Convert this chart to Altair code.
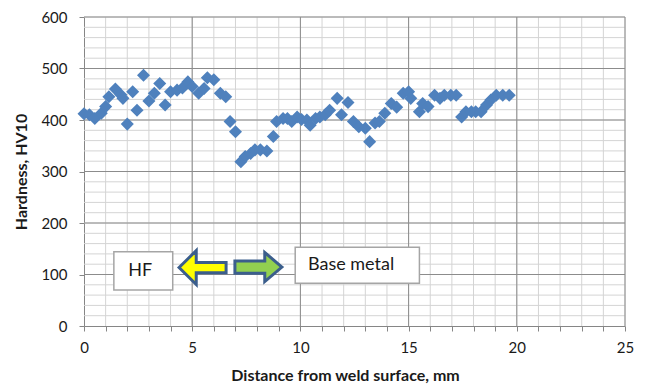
import altair as alt
import pandas as pd

# Hardness measurements
dist = [0, 0.25, 0.5, 0.8, 1.0, 1.15, 1.45, 1.7, 1.8, 2.0, 2.25, 2.45, 2.75, 3.0, 3.25,
        3.5, 3.75, 4.0, 4.3, 4.55, 4.8, 5.0, 5.3, 5.55, 5.7, 6.0, 6.3, 6.55, 6.75, 7.0,
        7.25, 7.45, 7.7, 7.9, 8.15, 8.45, 8.75, 8.9, 9.2, 9.4, 9.6, 9.85, 10.05, 10.3,
        10.45, 10.7, 10.9, 11.15, 11.35, 11.7, 11.9, 12.2, 12.45, 12.7, 13.0, 13.2, 13.45,
        13.65, 13.9, 14.2, 14.45, 14.75, 15.0, 15.1, 15.5, 15.65, 15.9, 16.2, 16.45, 16.65,
        16.95, 17.2, 17.45, 17.65, 17.9, 18.1, 18.35, 18.6, 18.8, 19.05, 19.35, 19.65]
hard = [412, 410, 403, 413, 426, 445, 460, 449, 442, 392, 455, 419, 487, 437, 452,
        471, 429, 455, 458, 462, 474, 465, 452, 461, 482, 478, 452, 445, 397, 377,
        319, 329, 335, 342, 342, 340, 368, 397, 403, 403, 397, 406, 401, 400,
        390, 403, 406, 410, 419, 442, 410, 434, 397, 387, 384, 358, 394,
        397, 413, 432, 425, 452, 455, 442, 416, 432, 426, 448, 442, 448,
        448, 448, 406, 416, 416, 416, 416, 429, 439, 448, 448, 448]

x_ticks = list(range(0, 26))
x_major = [5, 10, 15, 20, 25]
y_minor = list(range(20, 601, 20))
y_major = [100, 200, 300, 400, 500, 600]
y_ticks = [0, 100, 200, 300, 400, 500, 600]

# Annotation boxes (data units)
box_label = ["HF", "Base metal"]
box_x1 = [1.38, 9.76]
box_x2 = [4.1, 15.5]
box_y1 = [70, 83]
box_y2 = [144, 153]
text_x = [2.05, 10.35]
text_y = [107, 119]

FONT = "Lato"
XT = "Distance from weld surface, mm"
YT = "Hardness, HV10"
xs = alt.Scale(domain=[0, 25], nice=False, zero=False)
ys = alt.Scale(domain=[0, 600], nice=False)
xaxis = alt.Axis(values=x_ticks, labelExpr="datum.value % 5 === 0 ? datum.label : ''",
                 grid=False, tickSize=5, labelPadding=9, titlePadding=12, labelFlush=False,
                 titleX=261)
yaxis = alt.Axis(values=y_ticks, grid=False, tickSize=5, labelPadding=12, titlePadding=11)


def X(f):
    return alt.X(f, scale=xs, axis=xaxis, title=XT)


def Y(f):
    return alt.Y(f, scale=ys, axis=yaxis, title=YT)


df = pd.DataFrame({"d": dist, "h": hard})

vminor = alt.Chart(pd.DataFrame({"v": x_ticks[1:]})).mark_rule(
    color="#D4D4D4", strokeWidth=1).encode(x=X("v:Q"))
vmajor = alt.Chart(pd.DataFrame({"v": x_major})).mark_rule(
    color="#8C8C8C", strokeWidth=1).encode(x=X("v:Q"))
hminor = alt.Chart(pd.DataFrame({"v": y_minor})).mark_rule(
    color="#D4D4D4", strokeWidth=1).encode(y=Y("v:Q"))
hmajor = alt.Chart(pd.DataFrame({"v": y_major})).mark_rule(
    color="#8C8C8C", strokeWidth=1).encode(y=Y("v:Q"))

boxes_df = pd.DataFrame({"lab": box_label, "x1": box_x1, "x2": box_x2,
                         "y1": box_y1, "y2": box_y2, "tx": text_x, "ty": text_y})
boxes = alt.Chart(boxes_df).mark_rect(fill="white", stroke="#A5A5A5", strokeWidth=1.5).encode(
    x=X("x1:Q"), x2="x2:Q", y=Y("y1:Q"), y2="y2:Q")
texts = alt.Chart(boxes_df).mark_text(font=FONT, fontSize=18, align="left",
                                      baseline="middle", color="#1A1A1A").encode(
    x=X("tx:Q"), y=Y("ty:Q"), text="lab:N")

arrow_left = "M-1,0 L-0.27,-0.72 L-0.27,-0.22 L1,-0.22 L1,0.22 L-0.27,0.22 L-0.27,0.72 Z"
arrow_right = "M1,0 L0.27,-0.62 L0.27,-0.26 L-1,-0.26 L-1,0.26 L0.27,0.26 L0.27,0.62 Z"
yarrow = alt.Chart(pd.DataFrame({"x": [5.48], "y": [113.5]})).mark_point(
    shape=arrow_left, size=2210, filled=True, fill="#FFFF00", fillOpacity=1,
    stroke="#3B5E8C", strokeWidth=3, opacity=1).encode(x=X("x:Q"), y=Y("y:Q"))
garrow = alt.Chart(pd.DataFrame({"x": [8.06], "y": [114.5]})).mark_point(
    shape=arrow_right, size=2210, filled=True, fill="#92D050", fillOpacity=1,
    stroke="#3B5E8C", strokeWidth=3, opacity=1).encode(x=X("x:Q"), y=Y("y:Q"))

points = alt.Chart(df).mark_point(shape="diamond", filled=True, size=170,
                                  color="#4F81BD", opacity=1).encode(x=X("d:Q"), y=Y("h:Q"))

chart = alt.layer(vminor, hminor, vmajor, hmajor, boxes, texts, yarrow, garrow, points).properties(
    width=541, height=309,
    autosize=alt.AutoSizeParams(type="none"),
    padding={"left": 84, "top": 17, "right": 24, "bottom": 63},
    background="white",
).configure_view(stroke=None).configure_axis(
    domainColor="#868686", tickColor="#868686", labelColor="#1A1A1A",
    labelFont=FONT, labelFontSize=15, titleFont=FONT, titleFontSize=16,
    titleFontWeight="bold", titleColor="#1A1A1A")

chart.save("out.html", embed_options={"renderer": "svg", "actions": False})
